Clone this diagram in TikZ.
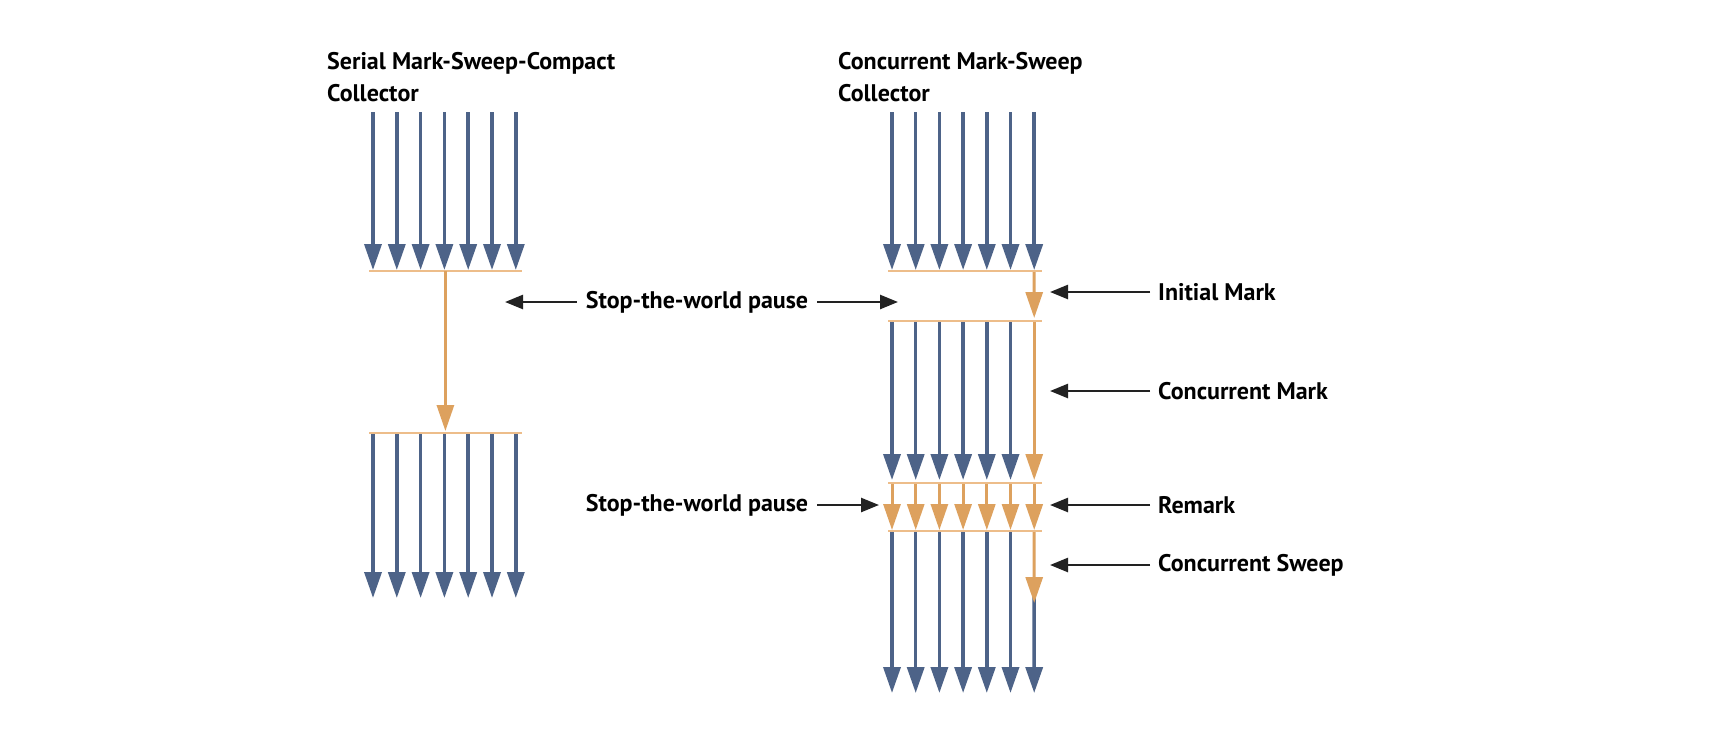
\documentclass[tikz,border=0pt]{standalone}
\usepackage{fontspec}
\setmainfont{PT Sans}
\usetikzlibrary{arrows.meta}
\definecolor{thrblue}{HTML}{4D6388}
\definecolor{gcorange}{HTML}{DDA15E}
\definecolor{barorange}{HTML}{EDBD8A}
\definecolor{ptrgray}{HTML}{222222}
\tikzset{
  thread/.style={draw=thrblue,line width=3.5pt,-{Triangle[width=17pt,length=26pt]}},
  gcline/.style={draw=gcorange,line width=3pt,-{Triangle[width=17pt,length=26pt]}},
  bar/.style={draw=barorange,line width=2.5pt},
  ptr/.style={draw=ptrgray,line width=2.5pt,-{Triangle[width=14pt,length=18pt]}},
  lbl/.style={font=\fontsize{24}{32}\selectfont\bfseries,text=black,inner sep=0pt},
}
\begin{document}
\begin{tikzpicture}[x=1pt,y=-1pt]
\useasboundingbox[fill=white] (0,0) rectangle (1710,734);
% ---------- titles
\node[lbl,anchor=base west] (t1a) at (327,69.5) {Serial Mark-Sweep-Compact};
\node[lbl,anchor=base west] (t1b) at (327,101.5) {Collector};
\node[lbl,anchor=base west] (t2a) at (838,69.5) {Concurrent Mark-Sweep};
\node[lbl,anchor=base west] (t2b) at (838,101.5) {Collector};
% ---------- left collector
\foreach \i in {0,...,6}{
  \pgfmathsetmacro{\xx}{373+23.8*\i}
  \coordinate (la\i) at (\xx,112);
  \coordinate (lb\i) at (\xx,270);
  \coordinate (lc\i) at (\xx,433);
  \coordinate (ld\i) at (\xx,598);
  \draw[thread] (la\i) -- (lb\i);
  \draw[thread] (lc\i) -- (ld\i);
}
\coordinate (lbar1w) at (369,271); \coordinate (lbar1e) at (522,271);
\coordinate (lbar2w) at (369,433); \coordinate (lbar2e) at (522,433);
\draw[bar] (lbar1w) -- (lbar1e);
\draw[bar] (lbar2w) -- (lbar2e);
\coordinate (lgs) at (445.4,271); \coordinate (lge) at (445.4,431);
\draw[gcline] (lgs) -- (lge);
% ---------- right collector
\foreach \i in {0,...,6}{
  \pgfmathsetmacro{\xx}{892+23.7*\i}
  \coordinate (ra\i) at (\xx,112);
  \coordinate (rb\i) at (\xx,270);
  \coordinate (rc\i) at (\xx,321);
  \coordinate (rd\i) at (\xx,480);
  \coordinate (re\i) at (\xx,483);
  \coordinate (rf\i) at (\xx,530);
  \coordinate (rg\i) at (\xx,531);
  \coordinate (rh\i) at (\xx,693);
  \draw[thread] (ra\i) -- (rb\i);
  \draw[gcline] (re\i) -- (rf\i);
}
\foreach \i in {0,...,5}{
  \draw[thread] (rc\i) -- (rd\i);
  \draw[thread] (rg\i) -- (rh\i);
}
\coordinate (rsw) at (1034.2,580);
\draw[thread] (rsw) -- (rh6);
\coordinate (rim) at (1034.2,318);
\draw[gcline] (rb6) -- (rim);
\draw[gcline] (rc6) -- (rd6);
\coordinate (rse) at (1034.2,603);
\draw[gcline] (rg6) -- (rse);
\foreach \y/\n in {271/1,321/2,483/3,531/4}{
  \coordinate (rbar\n w) at (888,\y);
  \coordinate (rbar\n e) at (1042,\y);
  \draw[bar] (rbar\n w) -- (rbar\n e);
}
% ---------- stop-the-world labels
\node[lbl] (stw1) at (697,302) {Stop-the-world pause};
\coordinate (stw1l) at (505,302);
\coordinate (stw1r) at (898,302);
\draw[ptr,shorten <=9pt] (stw1.west) -- (stw1l);
\draw[ptr,shorten <=9pt] (stw1.east) -- (stw1r);
\node[lbl] (stw2) at (697,505) {Stop-the-world pause};
\coordinate (stw2r) at (879,505);
\draw[ptr,shorten <=9pt] (stw2.east) -- (stw2r);
% ---------- phase labels
\foreach \y/\n/\t in {292/im/Initial Mark,391/cm/Concurrent Mark,505/rm/Remark,565/cs/Concurrent Sweep}{
  \node[lbl,anchor=west] (\n) at (1158,\y) {\t};
  \coordinate (\n tip) at (1050,\y);
  \draw[ptr,shorten <=8pt] (\n.west) -- (\n tip);
}
\end{tikzpicture}
\end{document}
